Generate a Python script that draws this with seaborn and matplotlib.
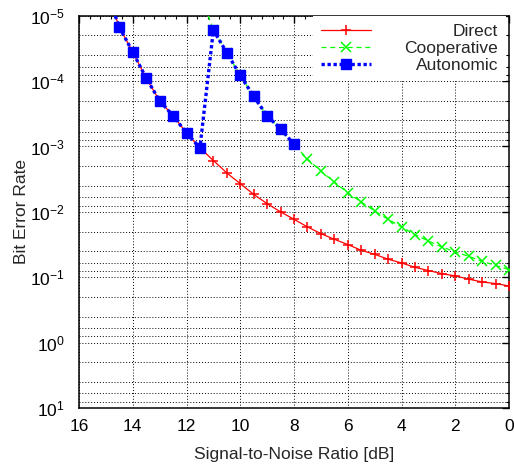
import numpy as np
import pandas as pd
import matplotlib
matplotlib.use("Agg")
import matplotlib.pyplot as plt
import seaborn as sns
from matplotlib.ticker import LogLocator, FixedLocator, FixedFormatter, MultipleLocator, NullFormatter

# ---------------- data ----------------
snr_direct = [15.0, 14.5, 14.0, 13.5, 13.0, 12.5, 12.0, 11.5, 11.0, 10.5, 10.0,
              9.5, 9.0, 8.5, 8.0, 7.5, 7.0, 6.5, 6.0, 5.5, 5.0, 4.5, 4.0,
              3.5, 3.0, 2.5, 2.0, 1.5, 1.0, 0.5, 0.0]
ber_direct = [4e-6, 1.5e-5, 3.6e-5, 9.0e-5, 2.0e-4, 3.4e-4, 6.2e-4, 1.05e-3, 1.64e-3,
              2.54e-3, 3.7e-3, 5.4e-3, 7.5e-3, 1.0e-2, 1.3e-2, 1.7e-2, 2.15e-2,
              2.63e-2, 3.16e-2, 3.87e-2, 4.46e-2, 5.3e-2, 6.05e-2, 7.05e-2, 7.9e-2,
              8.8e-2, 9.55e-2, 0.107, 0.118, 0.125, 0.136]

snr_coop = [11.5, 11.0, 10.5, 10.0, 9.5, 9.0, 8.5, 8.0, 7.5, 7.0, 6.5, 6.0,
            5.5, 5.0, 4.5, 4.0, 3.5, 3.0, 2.5, 2.0, 1.5, 1.0, 0.5, 0.0]
ber_coop = [4.4e-6, 1.66e-5, 3.68e-5, 8.2e-5, 1.71e-4, 3.4e-4, 5.37e-4, 9.3e-4,
            1.55e-3, 2.39e-3, 3.48e-3, 5.14e-3, 7.05e-3, 9.7e-3, 1.3e-2, 1.7e-2,
            2.23e-2, 2.79e-2, 3.44e-2, 4.1e-2, 4.79e-2, 5.7e-2, 6.6e-2, 7.65e-2]

snr_auto = [15.0, 14.5, 14.0, 13.5, 13.0, 12.5, 12.0, 11.5, 11.0, 10.5, 10.0,
            9.5, 9.0, 8.5, 8.0]
ber_auto = [4e-6, 1.5e-5, 3.6e-5, 9.0e-5, 2.0e-4, 3.4e-4, 6.2e-4, 1.05e-3,
            1.66e-5, 3.68e-5, 8.2e-5, 1.71e-4, 3.4e-4, 5.37e-4, 9.3e-4]

series_names = ["Direct", "Cooperative", "Autonomic"]
x_ticks = [16, 14, 12, 10, 8, 6, 4, 2, 0]
y_ticks = [1e-5, 1e-4, 1e-3, 1e-2, 1e-1, 1e0, 1e1]
y_tick_labels = ["$10^{-5}$", "$10^{-4}$", "$10^{-3}$", "$10^{-2}$",
                 "$10^{-1}$", "$10^{0}$", "$10^{1}$"]
x_label = "Signal-to-Noise Ratio [dB]"
y_label = "Bit Error Rate"

# ---------------- style ----------------
sns.set_style("white")
plt.rcParams["font.family"] = ["Liberation Sans", "DejaVu Sans"]
plt.rcParams["mathtext.fontset"] = "custom"
plt.rcParams["mathtext.rm"] = "Liberation Sans"
plt.rcParams["mathtext.it"] = "Liberation Sans:italic"
plt.rcParams["mathtext.bf"] = "Liberation Sans:bold"

fig = plt.figure(figsize=(5.14, 4.65), dpi=100)
ax = fig.add_axes([79 / 514, 1 - 408 / 465, 430 / 514, (408 - 15.7) / 465])

df_d = pd.DataFrame({"snr": snr_direct, "ber": ber_direct})
df_c = pd.DataFrame({"snr": snr_coop, "ber": ber_coop})
df_a = pd.DataFrame({"snr": snr_auto, "ber": ber_auto})

red, green, blue = "#ff0000", "#00ff00", "#0000ff"

sns.lineplot(data=df_d, x="snr", y="ber", ax=ax, color=red, linewidth=0.9,
             marker="+", markersize=7.5, markeredgewidth=1.1, markeredgecolor=red,
             label=series_names[0], sort=False, zorder=3)
sns.lineplot(data=df_c, x="snr", y="ber", ax=ax, color=green, linewidth=0.9,
             linestyle=(0, (4, 3)), marker="x", markersize=7, markeredgewidth=1.1,
             markeredgecolor=green, label=series_names[1], sort=False, zorder=4)
sns.lineplot(data=df_a, x="snr", y="ber", ax=ax, color=blue, linewidth=2.4,
             linestyle=(0, (1, 0.8)), marker="s", markersize=7.5, markeredgewidth=1.0,
             markeredgecolor=blue, label=series_names[2], sort=False, zorder=5)

ax.set_yscale("log")
ax.set_xlim(16, 0)
ax.set_ylim(1e1, 1e-5)

ax.xaxis.set_major_locator(FixedLocator(x_ticks))
ax.xaxis.set_minor_locator(MultipleLocator(0.4))
ax.yaxis.set_major_locator(FixedLocator(y_ticks))
ax.yaxis.set_major_formatter(FixedFormatter(y_tick_labels))
ax.yaxis.set_minor_locator(LogLocator(base=10, subs=(2, 4, 6, 8), numticks=20))
ax.yaxis.set_minor_formatter(NullFormatter())

ax.grid(True, which="major", axis="x", color="black", linestyle=(0, (1, 2)), linewidth=0.7)
ax.grid(True, which="both", axis="y", color="black", linestyle=(0, (1, 2)), linewidth=0.7)
ax.set_axisbelow(True)

ax.tick_params(which="both", direction="in", top=True, right=True, colors="black",
               labelsize=12.5)
ax.tick_params(which="major", length=5, width=1.0)
ax.tick_params(axis="x", which="major", pad=8)
ax.tick_params(axis="y", which="major", pad=10)
ax.tick_params(which="minor", length=2.5, width=0.8)
for s in ax.spines.values():
    s.set_visible(True)
    s.set_color("black")
    s.set_linewidth(1.1)

ax.set_xlabel(x_label, fontsize=12.5, labelpad=9)
ax.set_ylabel(y_label, fontsize=12.5, labelpad=1)

leg = ax.legend(loc="upper right", bbox_to_anchor=(0.993, 1.0), fontsize=12.5,
                frameon=True, facecolor="white", edgecolor="none", framealpha=1,
                fancybox=False, borderpad=0.45, borderaxespad=0, labelspacing=0.12,
                handlelength=2.9, handletextpad=1.9, numpoints=1)
leg.set_zorder(10)
fig.canvas.draw()
renderer = fig.canvas.get_renderer()
widths = [t.get_window_extent(renderer).width for t in leg.get_texts()]
wmax = max(widths)
for t, w in zip(leg.get_texts(), widths):
    t.set_position((wmax - w, 0))

fig.savefig("out.png", dpi=100)
